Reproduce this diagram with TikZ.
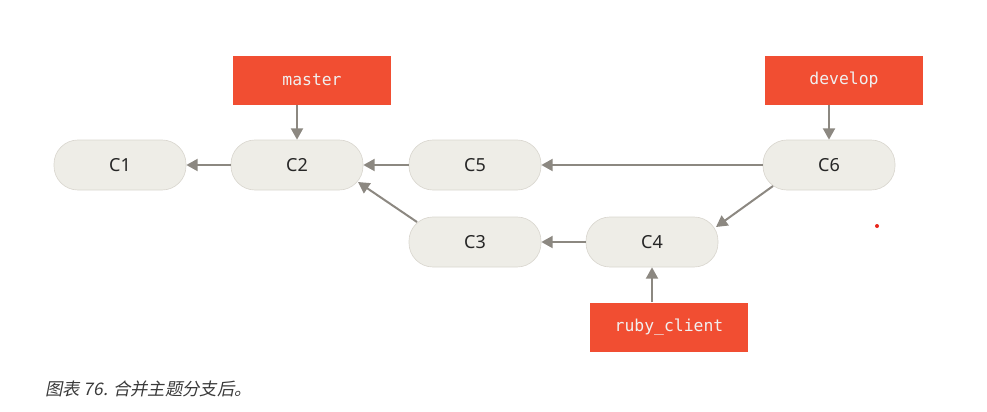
\documentclass[tikz,border=0pt]{standalone}
\usepackage{fontspec}
\setsansfont{Noto Sans}
\setmonofont{DejaVu Sans Mono}
\newfontfamily\cjkcap[FakeSlant=0.2]{Noto Sans CJK SC}
\usetikzlibrary{arrows.meta}
\definecolor{gitred}{HTML}{F14E32}
\definecolor{commitfill}{HTML}{EEEDE7}
\definecolor{commitdraw}{HTML}{DAD7D0}
\definecolor{arrowgray}{HTML}{8C8881}
\definecolor{captiongray}{HTML}{3A3A3A}
\definecolor{dotred}{HTML}{E8261C}
\begin{document}
\begin{tikzpicture}[x=0.75pt,y=-0.75pt,
  commit/.style={draw=commitdraw,line width=0.5pt,fill=commitfill,rounded corners=18pt,
    minimum width=99pt,minimum height=37.5pt,inner sep=0pt,
    font=\sffamily\fontsize{13.5pt}{15pt}\selectfont,text=black!85},
  branch/.style={fill=gitred,minimum width=118.5pt,minimum height=36.75pt,inner sep=0pt,
    font=\ttfamily\fontsize{12.3pt}{14pt}\selectfont,text=white!94!black},
  link/.style={draw=arrowgray,line width=1.5pt,-{Triangle[length=8.5pt,width=9pt]}}
  ]
\useasboundingbox (0,0) rectangle (987,411);
\node[commit] (C1) at (120,165) {C1};
\node[commit] (C2) at (297,165) {C2};
\node[commit] (C5) at (475,165) {C5};
\node[commit] (C6) at (829,165) {C6};
\node[commit] (C3) at (475,242) {C3};
\node[commit] (C4) at (652,242) {C4};
\node[branch] (master) at (312,80) {master};
\node[branch] (develop) at (844,80) {develop};
\node[branch] (ruby) at (669,327) {ruby\_client};
\draw[link] (C2.west) -- (C1.east);
\draw[link] (C5.west) -- (C2.east);
\draw[link] (C6.west) -- (C5.east);
\draw[link] (C4.west) -- (C3.east);
\draw[link] ([shift={(-58,-20)}]C3.center) -- ([shift={(61,17)}]C2.center);
\draw[link] ([shift={(-56,21)}]C6.center) -- ([shift={(64,-15)}]C4.center);
\draw[link] (master.south -| C2.north) -- (C2.north);
\draw[link] (develop.south -| C6.north) -- (C6.north);
\draw[link] (ruby.north -| C4.south) -- (C4.south);
\fill[dotred] (877,226) circle (1.5pt);
\node[anchor=base west,inner sep=0pt,text=captiongray,font=\cjkcap\fontsize{13pt}{15pt}\selectfont] (cap) at (45,395) {图表 76. 合并主题分支后。};
\end{tikzpicture}
\end{document}
